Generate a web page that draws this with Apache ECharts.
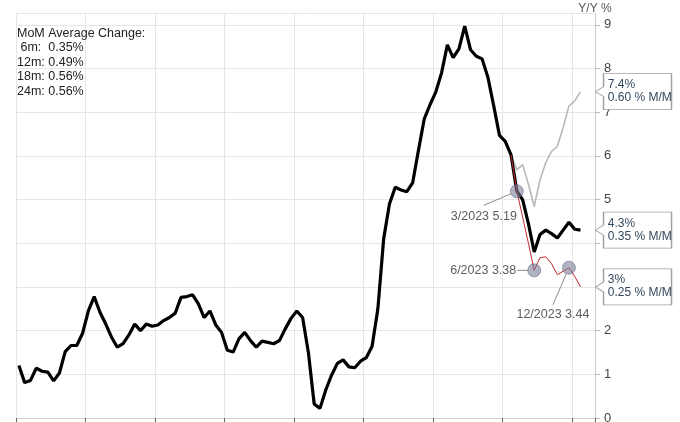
<!DOCTYPE html>
<html><head><meta charset="utf-8">
<script src="https://cdn.jsdelivr.net/npm/echarts@6/dist/echarts.min.js"></script>
<style>html,body{margin:0;padding:0;background:#fff}#c{width:680px;height:422px}</style>
</head><body><div id="c"></div>
<script>
// ---- data ----
const years = [2016, 2017, 2018, 2019, 2020, 2021, 2022, 2023, 2024];
const monthNames = ['01','02','03','04','05','06','07','08','09','10','11','12'];
const lastCategory = '2024-04';

// CPI Y/Y %, monthly from Jan 2016 to Feb 2024
const actualYoY = [
  1.20,0.81,0.86,1.14,1.07,1.05,0.85,1.03,1.52,1.66,1.66,1.94,
  2.45,2.78,2.42,2.15,1.85,1.62,1.70,1.90,2.15,2.00,2.15,2.10,
  2.13,2.23,2.30,2.40,2.76,2.78,2.82,2.61,2.30,2.45,2.13,1.96,
  1.55,1.51,1.81,1.96,1.77,1.62,1.76,1.73,1.70,1.77,2.04,2.28,
  2.45,2.30,1.50,0.32,0.22,0.64,0.98,1.25,1.33,1.17,1.15,1.30,
  1.38,1.64,2.50,4.10,4.90,5.28,5.22,5.18,5.38,6.12,6.84,7.17,
  7.46,7.90,8.54,8.25,8.45,8.97,8.43,8.28,8.22,7.80,7.15,6.47,
  6.33,6.02,5.19,5.00,4.45,3.80,4.20,4.30,4.22,4.12,4.30,4.48,
  4.32,4.30
];
// projection paths starting Feb 2023 (category index 85)
const projStartIndex = 85;
const highPathYoY = [6.02,5.68,5.80,5.35,4.84,5.45,5.85,6.10,6.22,6.65,7.14,7.26,7.47];
const lowPathYoY  = [6.02,5.19,4.60,4.00,3.38,3.67,3.69,3.53,3.28,3.36,3.44,3.24,3.00];

// annotated points on the low path
const annIndex  = [86, 89, 95];
const annValue  = [5.19, 3.38, 3.44];
const annLabel  = ['3/2023 5.19', '6/2023 3.38', '12/2023 3.44'];

// end callouts
const calloutHigh   = ['7.4%', '0.60 % M/M'];
const calloutActual = ['4.3%', '0.35 % M/M'];
const calloutLow    = ['3%', '0.25 % M/M'];

const momTitle = 'MoM Average Change:';
const momLines = [' 6m:  0.35%', '12m: 0.49%', '18m: 0.56%', '24m: 0.56%'];

const yTicks = { min: 0, max: 9.27, step: 1 };
const axisName = 'Y/Y %';

// ---- build ----
const categories = [];
years.forEach(y => monthNames.forEach(m => {
  const c = y + '-' + m;
  if (categories.length === 0 || categories[categories.length - 1] < lastCategory) categories.push(c);
}));

function pad(tail) {
  const arr = new Array(projStartIndex).fill(null);
  return arr.concat(tail);
}

const FONT = '"Liberation Sans", Arial, sans-serif';
const calloutPath = 'path://M8,0L76,0L76,36L8,36L8,23L0,18L8,13Z';

function callout(series, lines) {
  const i = series.length - 1;
  return {
    symbol: calloutPath,
    symbolSize: [76, 36],
    symbolKeepAspect: false,
    symbolOffset: [53, 0],
    silent: true,
    itemStyle: { color: '#ffffff', borderColor: '#a0a0a0', borderWidth: 1 },
    label: {
      show: true, position: [13, 18], align: 'left', verticalAlign: 'middle',
      color: '#34495e', fontSize: 12, lineHeight: 13, fontFamily: FONT,
      formatter: lines.join('\n')
    },
    data: [{ coord: [i, series[i]] }]
  };
}

// label offsets and leader-line end offsets (pixels, relative to the marker)
const annDx = [-33, -51, -16];
const annDy = [25, 0, 47];
const leaderEnd = [[-33, 14], [-17, 0], [-16, 37]];

const chart = echarts.init(document.getElementById('c'), null, { renderer: 'canvas' });
chart.setOption({
  animation: false,
  backgroundColor: '#ffffff',
  textStyle: { fontFamily: FONT },
  title: {
    text: [momTitle].concat(momLines).join('\n'),
    left: 17, top: 26, padding: 0,
    textStyle: { fontSize: 12.5, fontWeight: 'normal', color: '#222', lineHeight: 14.5, fontFamily: FONT }
  },
  grid: { left: 16, right: 85, top: 13, bottom: 4, containLabel: false, outerBoundsMode: 'none' },
  xAxis: {
    type: 'category', data: categories, boundaryGap: true,
    axisLine: { show: true, lineStyle: { color: '#d0d0d0' } },
    axisTick: { show: true, interval: (i) => i % 12 === 0, length: 5, lineStyle: { color: '#666' } },
    axisLabel: { show: false },
    splitLine: { show: true, interval: (i) => i % 12 === 0, lineStyle: { color: '#e6e6e6' } }
  },
  yAxis: {
    type: 'value', position: 'right', min: yTicks.min, max: yTicks.max, interval: yTicks.step,
    name: axisName, nameLocation: 'end', nameGap: -2,
    nameTextStyle: { color: '#555', fontSize: 12, fontFamily: FONT },
    axisLine: { show: true, lineStyle: { color: '#cccccc' } },
    axisTick: { show: true, length: 5, lineStyle: { color: '#bbbbbb' } },
    axisLabel: { showMaxLabel: false, color: '#444', fontSize: 13, margin: 9, fontFamily: FONT },
    splitLine: { show: true, lineStyle: { color: '#e6e6e6' } }
  },
  series: [
    {
      name: 'high', type: 'line', data: pad(highPathYoY), symbol: 'none', z: 2,
      lineStyle: { color: '#b8b8b8', width: 1.6 },
      markPoint: callout(pad(highPathYoY), calloutHigh)
    },
    {
      name: 'actual', type: 'line', data: actualYoY, symbol: 'none', z: 3,
      lineStyle: { color: '#000000', width: 3.2 },
      markPoint: callout(actualYoY, calloutActual)
    },
    {
      name: 'low', type: 'line', data: pad(lowPathYoY), symbol: 'none', z: 4,
      lineStyle: { color: '#c0282a', width: 1 },
      markPoint: callout(pad(lowPathYoY), calloutLow)
    },
    {
      name: 'annotations', type: 'scatter', z: 6,
      data: annIndex.map((x, k) => [x, annValue[k]]),
      symbolSize: 13,
      itemStyle: { color: 'rgba(118,124,150,0.72)', borderColor: 'rgba(95,100,125,0.7)', borderWidth: 1 },
      label: {
        show: true, position: 'inside', color: '#333', fontSize: 12.5, fontFamily: FONT,
        formatter: (p) => annLabel[p.dataIndex]
      },
      labelLayout: (p) => ({ dx: annDx[p.dataIndex], dy: annDy[p.dataIndex] })
    }
  ]
});

// leader lines from each annotated marker to its label
const leaders = annIndex.map((x, k) => {
  const p = chart.convertToPixel({ seriesIndex: 3 }, [x, annValue[k]]);
  const ex = p[0] + leaderEnd[k][0], ey = p[1] + leaderEnd[k][1];
  const len = Math.hypot(ex - p[0], ey - p[1]);
  const r = 6.5;
  const sx = p[0] + (ex - p[0]) / len * r, sy = p[1] + (ey - p[1]) / len * r;
  return { type: 'line', z: 100, silent: true,
    shape: { x1: sx, y1: sy, x2: ex, y2: ey },
    style: { stroke: '#8a8a8a', lineWidth: 1 } };
});
chart.setOption({ graphic: leaders });
</script></body></html>
